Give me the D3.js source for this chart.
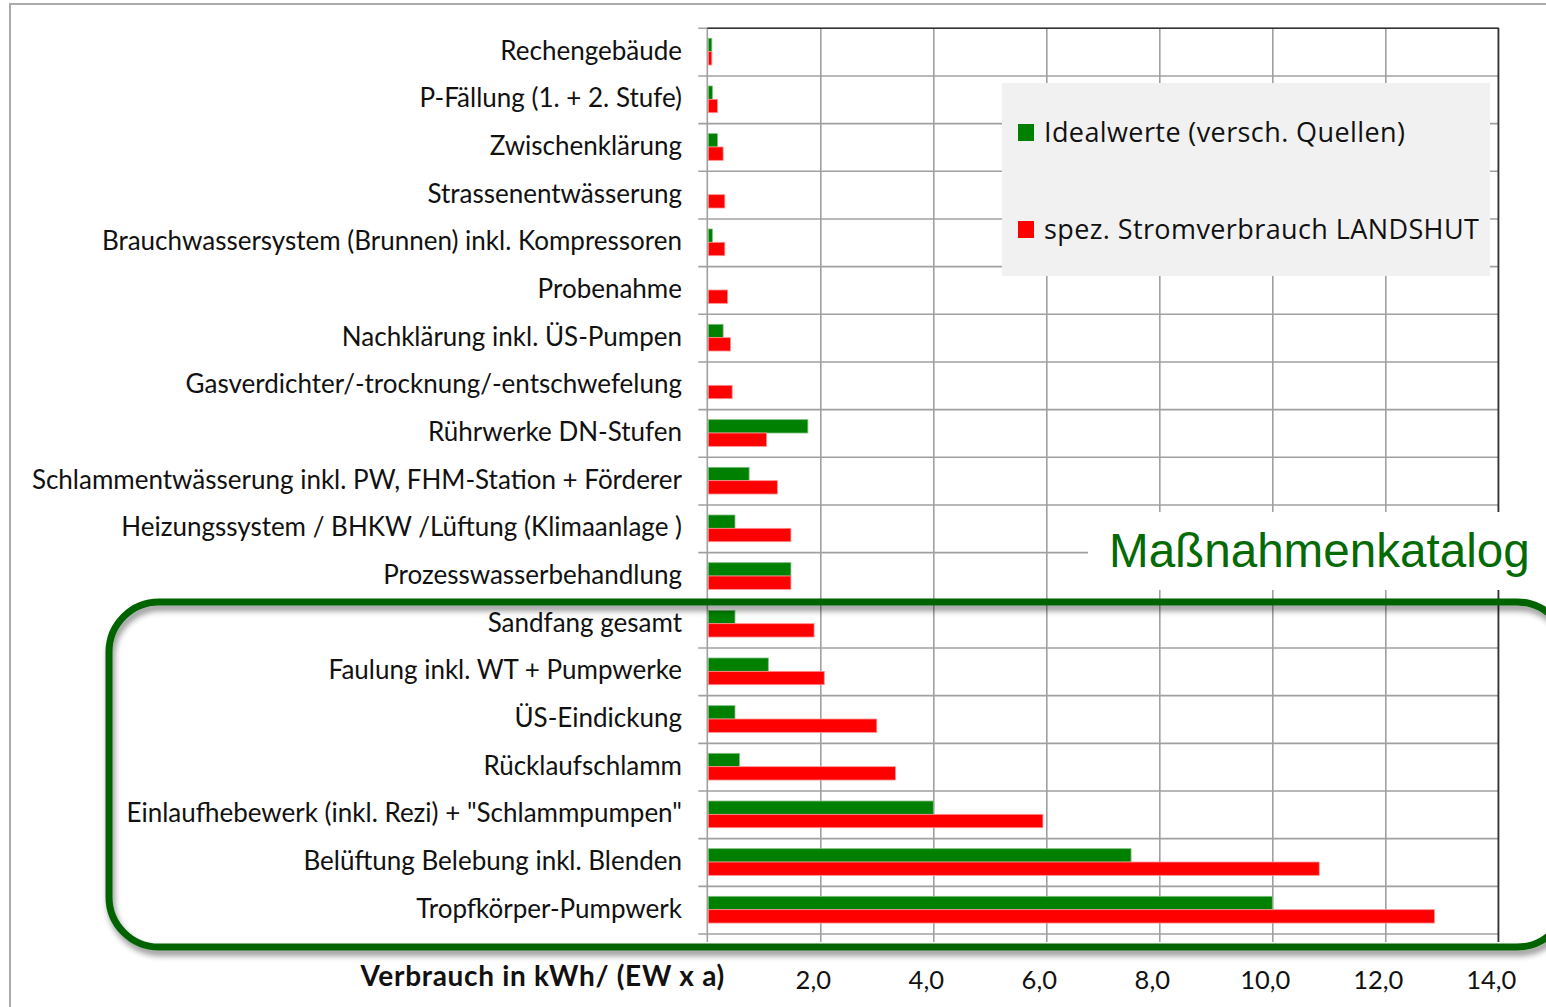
<!DOCTYPE html>
<html><head><meta charset="utf-8">
<script src="https://cdn.jsdelivr.net/npm/d3@7"></script>
<style>html,body{margin:0;padding:0;background:#fff;overflow:hidden}</style>
</head><body>
<svg id="chart" width="1546" height="1007"></svg>
<script>
const categories = [
  "Rechengebäude",
  "P-Fällung (1. + 2. Stufe)",
  "Zwischenklärung",
  "Strassenentwässerung",
  "Brauchwassersystem (Brunnen) inkl. Kompressoren",
  "Probenahme",
  "Nachklärung inkl. ÜS-Pumpen",
  "Gasverdichter/-trocknung/-entschwefelung",
  "Rührwerke DN-Stufen",
  "Schlammentwässerung inkl. PW, FHM-Station + Förderer",
  "Heizungssystem / BHKW /Lüftung (Klimaanlage )",
  "Prozesswasserbehandlung",
  "Sandfang gesamt",
  "Faulung inkl. WT + Pumpwerke",
  "ÜS-Eindickung",
  "Rücklaufschlamm",
  "Einlaufhebewerk (inkl. Rezi) + \"Schlammpumpen\"",
  "Belüftung Belebung inkl. Blenden",
  "Tropfkörper-Pumpwerk"
];
const idealwerte = [0.08, 0.09, 0.18, 0, 0.09, 0, 0.28, 0, 1.78, 0.74, 0.49, 1.48, 0.49, 1.08, 0.49, 0.57, 4.0, 7.5, 10.0];
const landshut   = [0.08, 0.18, 0.28, 0.31, 0.31, 0.36, 0.41, 0.44, 1.05, 1.24, 1.48, 1.48, 1.89, 2.07, 3.0, 3.33, 5.94, 10.83, 12.87];
const seriesNames = ["Idealwerte (versch. Quellen)", "spez. Stromverbrauch LANDSHUT"];
const seriesColors = ["#008000", "#ff0000"];
const tickValues = [2, 4, 6, 8, 10, 12, 14];
const tickLabels = ["2,0", "4,0", "6,0", "8,0", "10,0", "12,0", "14,0"];
const axisTitle = "Verbrauch in kWh/ (EW x a)";
const calloutText = "Maßnahmenkatalog";

const svg = d3.select("#chart");
const labelFont = "Lato, 'Open Sans', sans-serif";

const X0 = 707.3, X1 = 1498.3, Y0 = 28.3, Y1 = 934;
const x = d3.scaleLinear().domain([0, 14]).range([X0, X1]);
const y = d3.scaleBand().domain(categories).range([Y0, Y1]).paddingInner(0).paddingOuter(0);
const bw = y.bandwidth();
const ys = d3.scaleBand().domain([0, 1]).range([bw * 0.21, bw * 0.77]);

// outer frame
svg.append("rect").attr("x", 10).attr("y", 4).attr("width", 1600).attr("height", 1100)
  .attr("fill", "none").attr("stroke", "#ababab").attr("stroke-width", 2);

// horizontal grid (row separators) with small ticks to the left
const rowEdges = categories.map((c) => y(c)).concat([Y1]);
svg.append("g").selectAll("line").data(rowEdges).join("line")
  .attr("x1", X0 - 9).attr("x2", X1).attr("y1", d => d).attr("y2", d => d)
  .attr("stroke", "#a0a0a0").attr("stroke-width", 1.6);

// vertical grid via axis
const gx = svg.append("g").attr("transform", `translate(0,${Y1})`)
  .call(d3.axisBottom(x).tickValues(tickValues).tickSize(-(Y1 - Y0)).tickFormat(""));
gx.select(".domain").remove();
gx.selectAll(".tick line").attr("stroke", "#a0a0a0").attr("stroke-width", 1.6).attr("y1", 8);

// left axis line
svg.append("line").attr("x1", X0).attr("x2", X0).attr("y1", Y0).attr("y2", Y1 + 8)
  .attr("stroke", "#a0a0a0").attr("stroke-width", 1.6);
// top and right border
svg.append("path").attr("d", `M${X0},${Y0}H${X1}V${Y1 + 8}`)
  .attr("fill", "none").attr("stroke", "#333").attr("stroke-width", 1.6);

// bars
const rows = categories.map((c, i) => ({ c, vals: [idealwerte[i], landshut[i]] }));
const g = svg.append("g").selectAll("g").data(rows).join("g")
  .attr("transform", d => `translate(0,${y(d.c)})`);
g.selectAll("rect").data(d => d.vals.map((v, k) => ({ v, k }))).join("rect")
  .filter(d => d.v > 0)
  .attr("x", X0 + 1).attr("y", d => ys(d.k))
  .attr("width", d => Math.max(0, x(d.v) - X0 - 1)).attr("height", ys.bandwidth())
  .attr("fill", d => seriesColors[d.k])
  .attr("stroke", d => d.k === 0 ? "#7fbf7f" : "#ff9090").attr("stroke-width", 0.8);

// category labels
svg.append("g").selectAll("text").data(categories).join("text")
  .attr("x", 682).attr("y", d => y(d) + bw / 2 + 7.5)
  .attr("text-anchor", "end").attr("font-family", labelFont).attr("font-size", 26)
  .attr("fill", "#111").text(d => d);

// tick labels
svg.append("g").selectAll("text").data(tickValues).join("text")
  .attr("x", d => x(d) - 7).attr("y", 989).attr("text-anchor", "middle")
  .attr("font-family", labelFont).attr("font-size", 25.5).attr("fill", "#111")
  .text((d, i) => tickLabels[i]);

// axis title
svg.append("text").attr("x", 725).attr("y", 986).attr("text-anchor", "end")
  .attr("font-family", labelFont).attr("font-weight", "bold").attr("font-size", 28)
  .attr("letter-spacing", 0.7)
  .attr("fill", "#111").text(axisTitle);

// legend
const lg = svg.append("g");
lg.append("rect").attr("x", 1002).attr("y", 83).attr("width", 488).attr("height", 193).attr("fill", "#f1f1f1");
const legY = [132, 229];
seriesNames.forEach((n, i) => {
  lg.append("rect").attr("x", 1018).attr("y", legY[i] - 8).attr("width", 16).attr("height", 17).attr("fill", seriesColors[i]);
  lg.append("text").attr("x", 1044).attr("y", legY[i] + 10).attr("font-family", "'Open Sans', sans-serif")
    .attr("font-size", 27).attr("letter-spacing", 0.4).attr("fill", "#111").text(n);
});

// callout background + text
svg.append("rect").attr("x", 1088).attr("y", 512).attr("width", 470).attr("height", 78).attr("fill", "#fff");
svg.append("text").attr("x", 1109).attr("y", 567).attr("font-family", "'Liberation Sans', Arial, sans-serif")
  .attr("font-size", 47.6).attr("fill", "#046a04").text(calloutText);

// rounded rectangle with shadow
const defs = svg.append("defs");
const f = defs.append("filter").attr("id", "sh").attr("x", "-5%").attr("y", "-10%").attr("width", "110%").attr("height", "130%");
f.append("feGaussianBlur").attr("in", "SourceAlpha").attr("stdDeviation", 3).attr("result", "b");
f.append("feOffset").attr("in", "b").attr("dx", 2).attr("dy", 5).attr("result", "o");
f.append("feComponentTransfer").attr("in", "o").attr("result", "o2")
  .append("feFuncA").attr("type", "linear").attr("slope", 0.45);
const m = f.append("feMerge");
m.append("feMergeNode").attr("in", "o2");
m.append("feMergeNode").attr("in", "SourceGraphic");
svg.append("rect").attr("x", 109).attr("y", 602).attr("width", 1458).attr("height", 345)
  .attr("rx", 50).attr("ry", 50).attr("fill", "none").attr("stroke", "#006400").attr("stroke-width", 7)
  .attr("filter", "url(#sh)");
</script>
</body></html>
